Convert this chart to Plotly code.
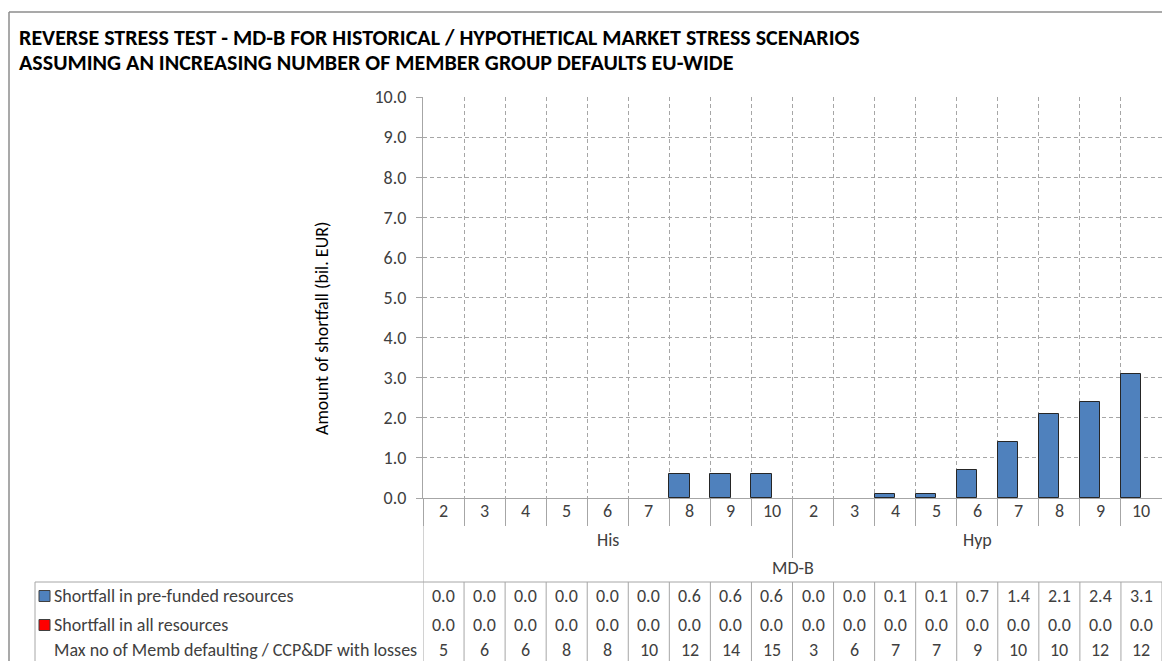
import plotly.graph_objects as go

# --- data -------------------------------------------------------------
scenario_groups = ["His", "Hyp"]
defaulting_members = [2, 3, 4, 5, 6, 7, 8, 9, 10]
top_group = "MD-B"

shortfall_prefunded = [0.0, 0.0, 0.0, 0.0, 0.0, 0.0, 0.6, 0.6, 0.6,
                       0.0, 0.0, 0.1, 0.1, 0.7, 1.4, 2.1, 2.4, 3.1]
shortfall_all = [0.0] * 18
max_members_ccp_df = [5, 6, 6, 8, 8, 10, 12, 14, 15,
                      3, 6, 7, 7, 9, 10, 10, 12, 12]

series_names = ["Shortfall in pre-funded resources",
                "Shortfall in all resources",
                "Max no of Memb defaulting / CCP&DF with losses"]
title_lines = ["REVERSE STRESS TEST - MD-B FOR HISTORICAL / HYPOTHETICAL MARKET STRESS SCENARIOS",
               "ASSUMING AN INCREASING NUMBER OF MEMBER GROUP DEFAULTS EU-WIDE"]
y_title = "Amount of shortfall (bil. EUR)"

# --- layout geometry (pixels) -----------------------------------------
FIG_W, FIG_H = 1162, 661
L, R, T, B = 423, 1162, 97, 498
PW, PH = R - L, B - T

def xp(p):
    return (p - L) / PW

def yp(p):
    return (B - p) / PH

FONT = "Carlito, Calibri, 'Liberation Sans Narrow', 'Open Sans', sans-serif"
TXT = "#404040"
GRID = "#a6a6a6"
AXIS = "#a6a6a6"
BLUE = "#4f81bd"
RED = "#ff0000"
FS = 18

n = len(shortfall_prefunded)
xs = list(range(n))
labels_lvl1 = [str(v) for _ in scenario_groups for v in defaulting_members]
per_group = len(defaulting_members)

fig = go.Figure()
fig.add_trace(go.Bar(x=xs, y=shortfall_prefunded, name=series_names[0],
                     marker=dict(color=BLUE,
                                 line=dict(color="#262626",
                                           width=[1 if v > 0 else 0 for v in shortfall_prefunded]))))
fig.add_trace(go.Bar(x=xs, y=shortfall_all, name=series_names[1],
                     marker=dict(color=RED,
                                 line=dict(color="#262626",
                                           width=[1 if v > 0 else 0 for v in shortfall_all]))))

boundaries = [i - 0.5 for i in range(n + 1)]

shapes = []
annotations = []

# chart frame (top and left edges)
shapes.append(dict(type="line", xref="paper", yref="paper", x0=xp(9), x1=xp(1300),
                   y0=yp(12), y1=yp(12), line=dict(color="#8c8c8c", width=1.5)))
shapes.append(dict(type="line", xref="paper", yref="paper", x0=xp(9), x1=xp(9),
                   y0=yp(12), y1=yp(700), line=dict(color="#8c8c8c", width=1.5)))

# left axis line continuing down through the category labels and table
shapes.append(dict(type="line", xref="x", yref="paper", x0=-0.5, x1=-0.5,
                   y0=yp(498), y1=yp(700), line=dict(color=AXIS, width=1)))

# group separators (second level)
for g in range(1, len(scenario_groups)):
    xb = g * per_group - 0.5
    shapes.append(dict(type="line", xref="x", yref="paper", x0=xb, x1=xb,
                       y0=yp(498), y1=yp(558), line=dict(color=AXIS, width=1)))

# data table borders
shapes.append(dict(type="line", xref="paper", yref="paper", x0=xp(35), x1=xp(1200),
                   y0=yp(582), y1=yp(582), line=dict(color=AXIS, width=1)))
shapes.append(dict(type="line", xref="paper", yref="paper", x0=xp(35), x1=xp(35),
                   y0=yp(582), y1=yp(700), line=dict(color=AXIS, width=1)))
for xb in boundaries[1:]:
    shapes.append(dict(type="line", xref="x", yref="paper", x0=xb, x1=xb,
                       y0=yp(582), y1=yp(700), line=dict(color=AXIS, width=1)))

# legend keys inside the table
for color, yc in [(BLUE, 596), (RED, 625)]:
    shapes.append(dict(type="rect", xref="paper", yref="paper",
                       x0=xp(39), x1=xp(50), y0=yp(yc - 5.5), y1=yp(yc + 5.5),
                       fillcolor=color, line=dict(color="#404040", width=1)))

# category labels, level 1
for i, lab in enumerate(labels_lvl1):
    annotations.append(dict(x=i, y=yp(511), xref="x", yref="paper", text=lab,
                            showarrow=False, font=dict(size=FS, color=TXT),
                            xanchor="center", yanchor="middle"))
# level 2
for g, name in enumerate(scenario_groups):
    xc = g * per_group + (per_group - 1) / 2
    annotations.append(dict(x=xc, y=yp(540), xref="x", yref="paper", text=name,
                            showarrow=False, font=dict(size=FS, color=TXT),
                            xanchor="center", yanchor="middle"))
# level 3
annotations.append(dict(x=(n - 1) / 2, y=yp(568), xref="x", yref="paper", text=top_group,
                        showarrow=False, font=dict(size=FS, color=TXT),
                        xanchor="center", yanchor="middle"))

# data table rows
rows = [
    [f"{v:.1f}" for v in shortfall_prefunded],
    [f"{v:.1f}" for v in shortfall_all],
    [str(v) for v in max_members_ccp_df],
]
row_y = [596, 625, 650]
for name, vals, yc in zip(series_names, rows, row_y):
    annotations.append(dict(x=xp(52), y=yp(yc), xref="paper", yref="paper", text=name,
                            showarrow=False, font=dict(size=FS, color=TXT),
                            xanchor="left", yanchor="middle"))
    for i, v in enumerate(vals):
        annotations.append(dict(x=i, y=yp(yc), xref="x", yref="paper", text=v,
                                showarrow=False, font=dict(size=FS, color=TXT),
                                xanchor="center", yanchor="middle"))

# title
for k, line in enumerate(title_lines):
    annotations.append(dict(x=xp(17), y=yp(37 + 26 * k), xref="paper", yref="paper",
                            text=f"<b>{line}</b>", showarrow=False,
                            font=dict(size=22, color="#000000"),
                            xanchor="left", yanchor="middle"))

# y-axis title
annotations.append(dict(x=xp(322), y=yp(329), xref="paper", yref="paper", text=y_title,
                        showarrow=False, textangle=-90, font=dict(size=FS, color="#000000"),
                        xanchor="center", yanchor="middle"))

fig.update_layout(
    width=FIG_W, height=FIG_H,
    margin=dict(l=L, r=FIG_W - R, t=T, b=FIG_H - B, pad=0),
    paper_bgcolor="white", plot_bgcolor="white",
    font=dict(family=FONT, size=FS, color=TXT),
    barmode="group", bargap=0, bargroupgap=0,
    showlegend=False,
    shapes=shapes, annotations=annotations,
    xaxis=dict(range=[-0.5, n - 0.5], tickmode="array", tickvals=boundaries,
               ticktext=[""] * len(boundaries), showgrid=True,
               gridcolor=GRID, griddash="4px,3px", gridwidth=1,
               ticks="outside", ticklen=27, tickcolor=AXIS, tickwidth=1,
               showline=True, linecolor=AXIS, linewidth=1, zeroline=False),
    yaxis=dict(range=[0, 10], dtick=1, tickformat=".1f", showgrid=True,
               gridcolor=GRID, griddash="4px,3px", gridwidth=1,
               ticks="outside", ticklen=6, tickcolor=AXIS, ticklabelstandoff=6,
               showline=True, linecolor=AXIS, linewidth=1, zeroline=False,
               tickfont=dict(size=FS, color=TXT)),
)

fig.write_html("out.html")
